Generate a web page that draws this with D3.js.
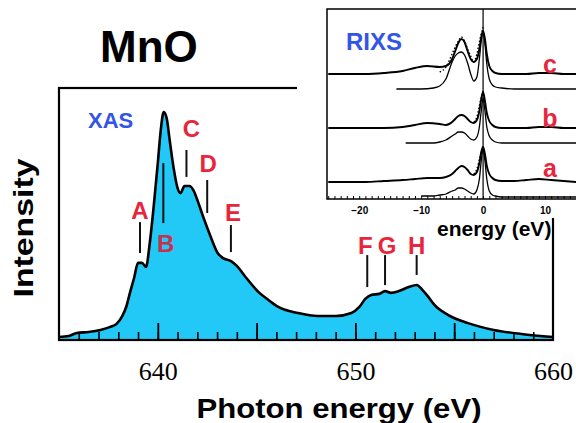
<!DOCTYPE html>
<html>
<head>
<meta charset="utf-8">
<script src="https://cdn.jsdelivr.net/npm/d3@7"></script>
<style>
  body { margin: 0; background: #fff; }
  svg { display: block; }
</style>
</head>
<body>
<div id="chart"></div>
<script>
// XAS spectrum (photon energy in eV, intensity in arbitrary units)
var xasEnergy = [635.0, 635.5, 635.9, 636.5, 637.1, 637.6, 637.9, 638.2, 638.4, 638.6, 638.8, 639.0, 639.2, 639.4, 639.6, 639.8,
  640.0, 640.15, 640.3, 640.45, 640.6, 640.8, 641.0, 641.15, 641.35, 641.6, 641.8, 642.0, 642.3, 642.7, 643.0, 643.3, 643.7,
  644.0, 644.4, 645.1, 645.6, 646.1, 647.1, 648.1, 649.0, 649.8, 650.2, 650.5, 650.8, 651.2, 651.5, 651.8, 652.2, 652.7,
  653.1, 653.4, 653.7, 654.0, 654.7, 655.7, 657.0, 658.4, 660.0];
var xasIntensity = [1.2, 1.6, 2.8, 3.2, 4.0, 5.2, 6.3, 9.5, 13.1, 19.0, 24.6, 30.6, 30.6, 29.0, 38.9, 53.6,
  70.2, 83.3, 90.5, 88.0, 79.4, 68.3, 60.3, 58.3, 61.1, 61.1, 59.5, 55.6, 48.8, 40.5, 34.9, 32.5, 31.3,
  29.4, 25.4, 19.0, 15.9, 13.1, 10.7, 9.5, 9.5, 10.7, 13.1, 16.3, 17.9, 18.3, 19.4, 18.7, 19.4, 21.0,
  21.8, 19.8, 17.0, 13.9, 9.9, 6.7, 4.0, 2.4, 1.2];

var peakNames = ["A", "B", "C", "D", "E", "F", "G", "H"];
var peakEnergy = [639.1, 640.28, 641.45, 642.5, 643.7, 650.6, 651.5, 653.1];
var peakTickTop = [46.8, 70.2, 75.4, 63.5, 45.6, 33.7, 33.7, 33.7];
var peakTickBottom = [34.5, 46.4, 64.7, 50.4, 34.9, 21.0, 21.8, 25.8];
var peakLabelEnergy = [639.1, 640.4, 641.7, 642.55, 643.8, 650.5, 651.6, 653.1];
var peakLabelLevel = [51.6, 38.5, 84.1, 70.2, 50.8, 37.7, 37.7, 37.7];

var xMajorTicks = [640, 645, 650, 655];
var xTickLabels = [640, 650, 660];

// RIXS inset (energy loss in eV, height above the inset axis)
var rixsEnergy = [-25, -22, -19, -16, -13, -11, -9, -7, -6, -5, -4.5, -4, -3.5, -3, -2.5, -2, -1.5, -1, -0.6, -0.3,
  0, 0.3, 0.6, 1, 1.5, 2, 3, 5, 7, 9, 11, 13, 15];
var rixsC = [125, 125, 125, 126, 128, 131, 133, 132, 133, 140, 148, 156, 160, 157, 148, 140, 137, 140, 150, 162,
  168, 160, 145, 133, 128, 126, 125, 125, 125, 126, 126, 125, 125];
var rixsB = [71, 71, 71, 71, 72, 74, 76, 75, 74, 77, 80, 83, 84, 83, 80, 77, 76, 79, 88, 100,
  107, 98, 86, 78, 74, 72, 71, 71, 71, 72, 72, 71, 71];
var rixsA = [17, 17, 17, 18, 19, 20, 21, 21, 22, 25, 28, 31, 33, 32, 29, 25, 24, 27, 36, 47,
  52, 45, 33, 25, 21, 19, 18, 18, 19, 20, 19, 18, 17];

var dottedEnergy = [-7, -6, -5, -4.5, -4, -3.5, -3, -2.5, -2, -1.5, -1, -0.5, 0];
var dottedC = [127, 132, 145, 152, 158, 162, 158, 150, 143, 137, 145, 160, 172];
var dottedB = [null, null, null, null, null, null, null, null, null, 77, 82, 96, 108];
var dottedA = [null, null, null, null, null, null, null, null, null, 25, 30, 42, 53];

var calcEnergy = [-14, -12.5, -10, -8, -7, -6, -5, -4.5, -4, -3.5, -3, -2.5, -2, -1.5, -1, -0.6, -0.3,
  0, 0.3, 0.6, 1, 1.5, 2, 3, 5, 15];
var calcC = [110, 110, 110, 111, 113, 120, 137, 143, 146, 147, 144, 136, 125, 118, 122, 140, 158,
  168, 155, 135, 120, 114, 112, 111, 110, 110];
var calcB = [null, 56, 56, 56, 57, 59, 63, 65, 67, 67, 66, 63, 60, 59, 62, 72, 88,
  101, 88, 72, 63, 59, 57, 56, 56, 56];
var calcA = [null, null, 3, 3, 4, 5, 8, 9, 11, 11, 10, 8, 6, 5, 9, 20, 38,
  50, 38, 20, 8, 4, 3, 2, 2, 2];

var rixsNames = ["c", "b", "a"];
var rixsNameLevel = [126, 72, 22];
var rixsTickLabels = [-20, -10, 0, 10];

var W = 576, H = 423;
var red = "#e8253c", blue = "#3355e6", cyan = "#22c8f6";

var svg = d3.select("#chart").append("svg")
  .attr("width", W)
  .attr("height", H)
  .style("font-family", "'Liberation Sans', Arial, sans-serif");

var x = d3.scaleLinear().domain([635, 660]).range([59, 553]);
var y = d3.scaleLinear().domain([0, 100]).range([340, 88]);

var xas = xasEnergy.map(function(e, i) { return [e, xasIntensity[i]]; });

svg.append("path")
  .datum(xas)
  .attr("fill", cyan)
  .attr("d", d3.area()
    .x(function(d) { return x(d[0]); })
    .y0(y(0))
    .y1(function(d) { return y(d[1]); })
    .curve(d3.curveMonotoneX));

// inward ticks on the energy axis
svg.append("g")
  .attr("transform", "translate(0," + y(0) + ")")
  .call(d3.axisBottom(x).tickValues(d3.range(636, 660, 1)).tickSize(-8).tickFormat(""))
  .call(function(g) { g.select(".domain").remove(); })
  .selectAll("line").attr("stroke-width", 1.6);

svg.append("g")
  .attr("transform", "translate(0," + y(0) + ")")
  .call(d3.axisBottom(x).tickValues(xMajorTicks).tickSize(-17).tickFormat(""))
  .call(function(g) { g.select(".domain").remove(); })
  .selectAll("line").attr("stroke-width", 1.8);

svg.append("g")
  .attr("transform", "translate(0," + y(0) + ")")
  .call(d3.axisBottom(x).tickValues(xTickLabels).tickSize(0).tickPadding(22))
  .call(function(g) { g.select(".domain").remove(); })
  .selectAll("text")
  .attr("fill", "#000")
  .style("font-family", "'Liberation Serif', 'Times New Roman', serif")
  .style("font-size", "26px");

svg.append("path")
  .datum(xas)
  .attr("fill", "none")
  .attr("stroke", "#000")
  .attr("stroke-width", 2.6)
  .attr("stroke-linejoin", "round")
  .attr("d", d3.line()
    .x(function(d) { return x(d[0]); })
    .y(function(d) { return y(d[1]); })
    .curve(d3.curveMonotoneX));

svg.append("rect")
  .attr("x", x(635))
  .attr("y", y(100))
  .attr("width", x(660) - x(635))
  .attr("height", y(0) - y(100))
  .attr("fill", "none")
  .attr("stroke", "#000")
  .attr("stroke-width", 2.2);

// peak markers
var peaks = svg.append("g").attr("class", "peaks");

peaks.selectAll("line")
  .data(peakNames)
  .enter().append("line")
  .attr("x1", function(d, i) { return x(peakEnergy[i]); })
  .attr("x2", function(d, i) { return x(peakEnergy[i]); })
  .attr("y1", function(d, i) { return y(peakTickTop[i]); })
  .attr("y2", function(d, i) { return y(peakTickBottom[i]); })
  .attr("stroke", "#111")
  .attr("stroke-width", 2);

peaks.selectAll("text")
  .data(peakNames)
  .enter().append("text")
  .attr("x", function(d, i) { return x(peakLabelEnergy[i]); })
  .attr("y", function(d, i) { return y(peakLabelLevel[i]); })
  .attr("dy", "0.36em")
  .attr("text-anchor", "middle")
  .attr("fill", function(d) { return d === "B" ? "#c8304e" : red; })
  .style("font-size", "24px")
  .style("font-weight", "bold")
  .text(function(d) { return d; });

svg.append("text")
  .attr("x", 88)
  .attr("y", 128)
  .attr("fill", blue)
  .style("font-size", "22px")
  .style("font-weight", "bold")
  .text("XAS");

svg.append("text")
  .attr("x", 100)
  .attr("y", 62)
  .attr("fill", "#000")
  .style("font-size", "44px")
  .style("font-weight", "bold")
  .text("MnO");

svg.append("text")
  .attr("x", 339)
  .attr("y", 418)
  .attr("text-anchor", "middle")
  .attr("fill", "#000")
  .attr("textLength", 285)
  .attr("lengthAdjust", "spacingAndGlyphs")
  .style("font-size", "28px")
  .style("font-weight", "bold")
  .text("Photon energy (eV)");

svg.append("text")
  .attr("transform", "translate(33,228) rotate(-90)")
  .attr("text-anchor", "middle")
  .attr("fill", "#000")
  .attr("textLength", 139)
  .attr("lengthAdjust", "spacingAndGlyphs")
  .style("font-size", "28px")
  .style("font-weight", "bold")
  .text("Intensity");

// RIXS inset
var ix = d3.scaleLinear().domain([-25.2, 15]).range([327, 576]);
var iy = d3.scaleLinear().domain([0, 190]).range([199, 9]);

var inset = svg.append("g").attr("class", "inset");

inset.append("rect")
  .attr("x", 297)
  .attr("y", 0)
  .attr("width", W - 297)
  .attr("height", 218)
  .attr("fill", "#fff");

inset.append("g")
  .attr("transform", "translate(0," + iy(0) + ")")
  .call(d3.axisBottom(ix).tickValues(d3.range(-25, 16, 1)).tickSize(-3).tickFormat(""))
  .call(function(g) { g.select(".domain").remove(); })
  .selectAll("line").attr("stroke-width", 1);

inset.append("g")
  .attr("transform", "translate(0," + iy(0) + ")")
  .call(d3.axisBottom(ix).tickValues(rixsTickLabels).tickSize(0).tickPadding(8))
  .call(function(g) { g.select(".domain").remove(); })
  .selectAll("text")
  .attr("fill", "#000")
  .style("font-size", "10px")
  .style("font-weight", "bold");

inset.append("path")
  .attr("fill", "none")
  .attr("stroke", "#000")
  .attr("stroke-width", 1.5)
  .attr("d", "M" + W + "," + iy(190) + "H" + ix(-25.2) + "V" + iy(0) + "H" + W);

inset.append("line")
  .attr("x1", ix(0))
  .attr("x2", ix(0))
  .attr("y1", iy(190))
  .attr("y2", iy(0))
  .attr("stroke", "#000")
  .attr("stroke-width", 1.2);

var iline = d3.line()
  .defined(function(d) { return d[1] !== null; })
  .x(function(d) { return ix(d[0]); })
  .y(function(d) { return iy(d[1]); })
  .curve(d3.curveMonotoneX);

function pairs(es, vs) {
  return es.map(function(e, i) { return [e, vs[i]]; });
}

var traces = [
  { e: rixsEnergy, v: rixsC, w: 1.9, dash: null },
  { e: rixsEnergy, v: rixsB, w: 1.9, dash: null },
  { e: rixsEnergy, v: rixsA, w: 1.9, dash: null },
  { e: calcEnergy, v: calcC, w: 1.3, dash: null },
  { e: calcEnergy, v: calcB, w: 1.3, dash: null },
  { e: calcEnergy, v: calcA, w: 1.3, dash: null },
  { e: dottedEnergy, v: dottedC, w: 1.4, dash: "1.5,2" },
  { e: dottedEnergy, v: dottedB, w: 1.4, dash: "1.5,2" },
  { e: dottedEnergy, v: dottedA, w: 1.4, dash: "1.5,2" }
];

inset.selectAll("path.trace")
  .data(traces)
  .enter().append("path")
  .attr("class", "trace")
  .attr("fill", "none")
  .attr("stroke", "#000")
  .attr("stroke-width", function(d) { return d.w; })
  .attr("stroke-dasharray", function(d) { return d.dash; })
  .attr("d", function(d) { return iline(pairs(d.e, d.v)); });

inset.selectAll("text.name")
  .data(rixsNames)
  .enter().append("text")
  .attr("class", "name")
  .attr("x", ix(10.8))
  .attr("y", function(d, i) { return iy(rixsNameLevel[i]); })
  .attr("text-anchor", "middle")
  .attr("fill", red)
  .style("font-size", "25px")
  .style("font-weight", "bold")
  .text(function(d) { return d; });

inset.append("text")
  .attr("x", 346)
  .attr("y", 50)
  .attr("fill", blue)
  .style("font-size", "24px")
  .style("font-weight", "bold")
  .text("RIXS");

inset.append("text")
  .attr("x", 437)
  .attr("y", 236)
  .attr("fill", "#000")
  .style("font-size", "21px")
  .style("font-weight", "bold")
  .text("energy (eV)");
</script>
</body>
</html>
